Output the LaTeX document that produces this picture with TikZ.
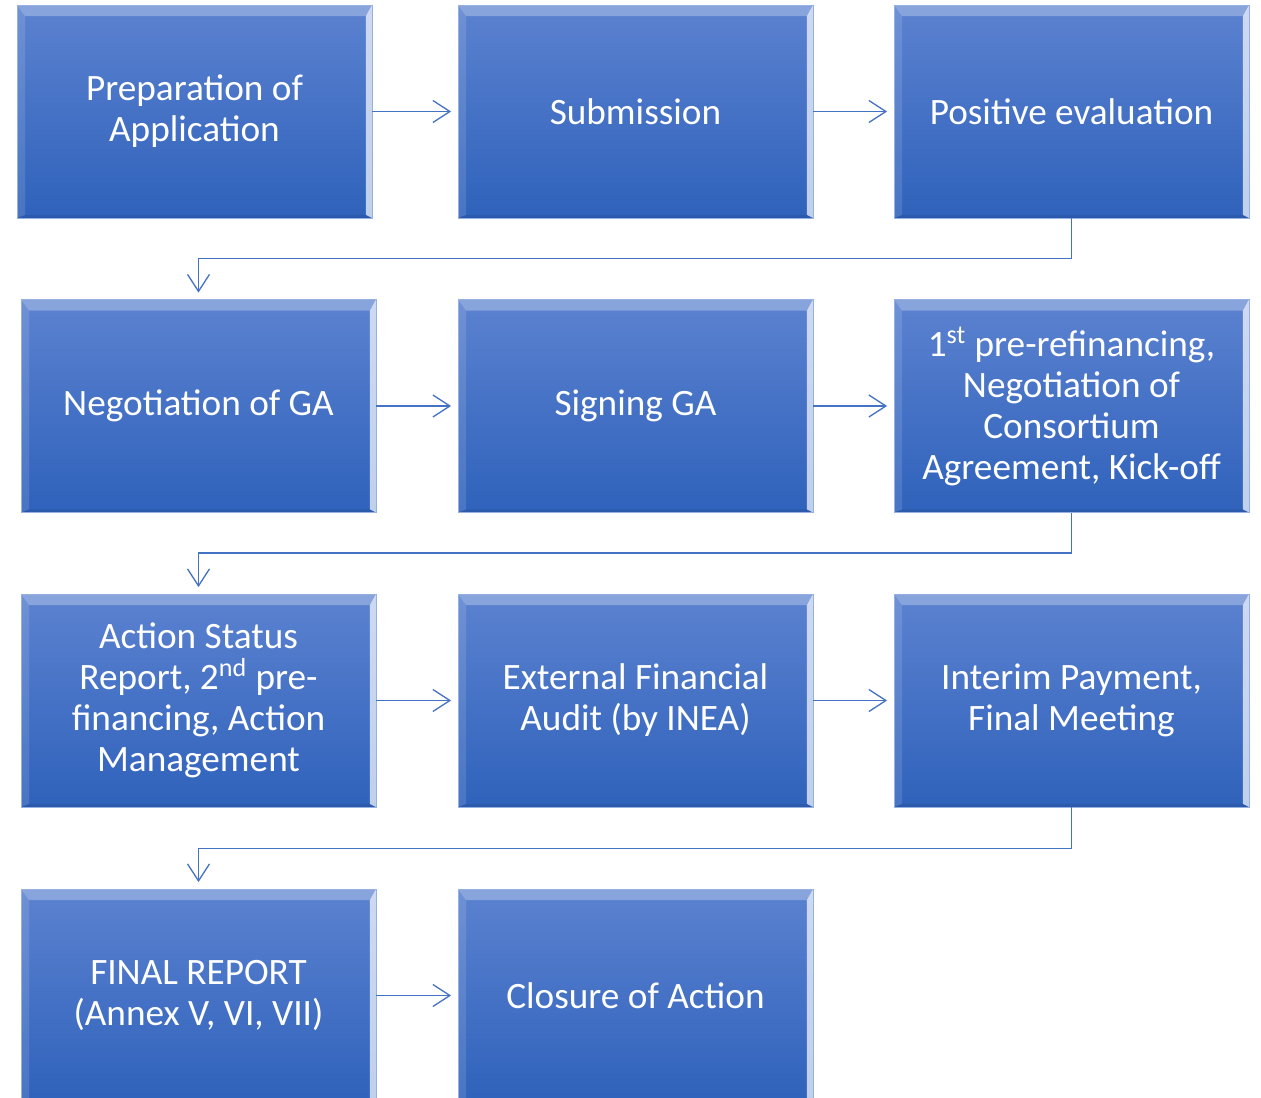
\documentclass[tikz,border=0pt]{standalone}
\usepackage{fontspec}
\setmainfont{Carlito}
\usetikzlibrary{arrows.meta}
\definecolor{boxtop}{RGB}{92,130,208}
\definecolor{boxbot}{RGB}{47,98,187}
\definecolor{boxedge}{RGB}{150,176,226}
\definecolor{linkblue}{RGB}{68,114,196}
\begin{document}
\begin{tikzpicture}[x=0.02cm, y=-0.02cm,
    stage/.style={draw=boxedge, line width=0.5pt, top color=boxtop, bottom color=boxbot,
        minimum width=7.1cm, minimum height=4.26cm, inner sep=2pt, text=white, align=center,
        font=\fontsize{21.2pt}{23.3pt}\selectfont,
        path picture={
            \fill[white, opacity=0.28] (path picture bounding box.north west) -- (path picture bounding box.north east)
                -- ([shift={(-6,11)}]path picture bounding box.north east) -- ([shift={(8,11)}]path picture bounding box.north west) -- cycle;
            \fill[white, opacity=0.12] (path picture bounding box.north west) -- ([shift={(8,11)}]path picture bounding box.north west)
                -- ([shift={(8,-3)}]path picture bounding box.south west) -- (path picture bounding box.south west) -- cycle;
            \fill[white, opacity=0.7] (path picture bounding box.north east) -- (path picture bounding box.south east)
                -- ([shift={(-6,-3)}]path picture bounding box.south east) -- ([shift={(-6,11)}]path picture bounding box.north east) -- cycle;
            \fill[black, opacity=0.08] (path picture bounding box.south west) -- (path picture bounding box.south east)
                -- ([shift={(-6,-3)}]path picture bounding box.south east) -- ([shift={(8,-3)}]path picture bounding box.south west) -- cycle;
        }},
    flow/.style={draw=linkblue, line width=0.75pt, -{Straight Barb[length=0.34cm, width=0.44cm]}, shorten >=0.13cm}]

    \useasboundingbox (0,0) rectangle (1261,1098);

    \node[stage] (S1) at (194.5,111.5) {Preparation of\\Application};
    \node[stage] (S2) at (635.5,111.5) {Submission};
    \node[stage] (S3) at (1071.5,111.5) {Positive evaluation};

    \node[stage] (S4) at (198.5,406) {Negotiation of GA};
    \node[stage] (S5) at (635.5,406) {Signing GA};
    \node[stage] (S6) at (1071.5,406) {1\textsuperscript{st} pre-refinancing,\\Negotiation of\\Consortium\\Agreement, Kick-off};

    \node[stage] (S7) at (198.5,700.5) {Action Status\\Report, 2\textsuperscript{nd} pre-\\financing, Action\\Management};
    \node[stage] (S8) at (635.5,700.5) {External Financial\\Audit (by INEA)};
    \node[stage] (S9) at (1071.5,700.5) {Interim Payment,\\Final Meeting};

    \node[stage] (S10) at (198.5,995.5) {FINAL REPORT\\(Annex V, VI, VII)};
    \node[stage] (S11) at (635.5,995.5) {Closure of Action};

    \draw[flow] (S1) -- (S2);
    \draw[flow] (S2) -- (S3);
    \draw[flow] (S3.south) -- ++(0,40) -| (S4.north);
    \draw[flow] (S4) -- (S5);
    \draw[flow] (S5) -- (S6);
    \draw[flow] (S6.south) -- ++(0,40) -| (S7.north);
    \draw[flow] (S7) -- (S8);
    \draw[flow] (S8) -- (S9);
    \draw[flow] (S9.south) -- ++(0,41) -| (S10.north);
    \draw[flow] (S10) -- (S11);
\end{tikzpicture}
\end{document}
